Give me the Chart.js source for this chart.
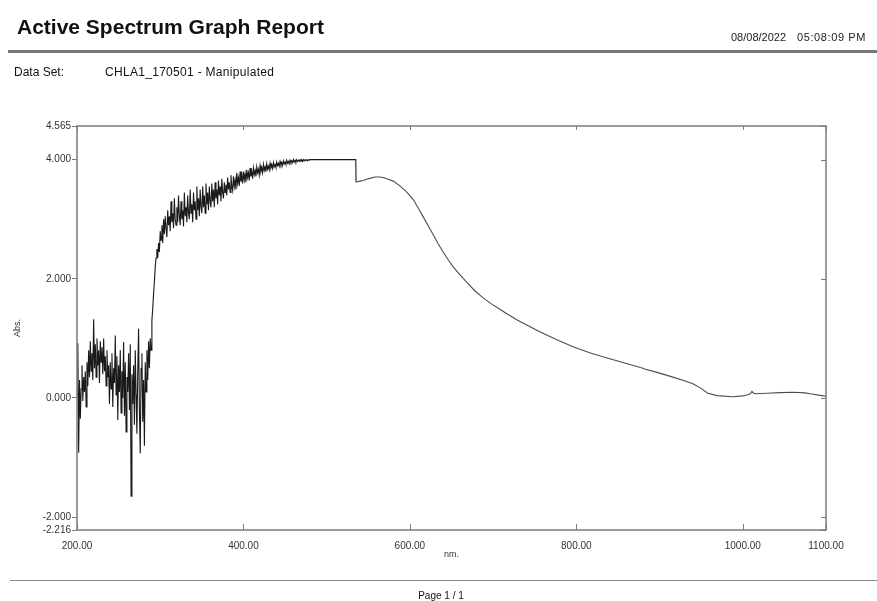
<!DOCTYPE html>
<html>
<head>
<meta charset="utf-8">
<script src="https://cdn.jsdelivr.net/npm/chart.js@4.4.0/dist/chart.umd.min.js"></script>
<style>
body { margin: 0; width: 877px; height: 601px; background: #fff; position: relative; overflow: hidden;
       font-family: Arial, "Liberation Sans", sans-serif; }
#wrap { position: absolute; left: 0; top: 0; width: 877px; height: 601px; }
.txt { position: absolute; white-space: pre; line-height: 1; color: #111; }
.rule { position: absolute; }
</style>
</head>
<body>
<div id="wrap"><canvas id="spectrumChart"></canvas></div>

<div class="txt" style="left:17px;top:16px;font-size:21px;font-weight:bold;">Active Spectrum Graph Report</div>
<div class="txt" style="left:731px;top:32px;font-size:11px;color:#222;">08/08/2022</div>
<div class="txt" style="left:797px;top:32px;font-size:11px;letter-spacing:0.6px;color:#222;">05:08:09 PM</div>
<div class="rule" style="left:8px;right:0;top:50px;border-top:3px solid #777;"></div>
<div class="txt" style="left:14px;top:66px;font-size:12px;">Data Set:</div>
<div class="txt" style="left:105px;top:66px;font-size:12px;letter-spacing:0.3px;">CHLA1_170501 - Manipulated</div>
<div class="rule" style="left:10px;right:0;top:580px;border-top:1px solid #888;"></div>
<div class="txt" style="left:0;width:882px;text-align:center;top:591px;font-size:10px;">Page 1 / 1</div>

<script>
/*** Axis ticks ***/
const xTicks = [200, 400, 600, 800, 1000, 1100];
const yTicks = [-2.216, -2, 0, 2, 4, 4.565];

/*** Spectrum, [nm, Abs] ***/
// noisy UV end
const uvNoise = [
    [200, 0.05], [201, 0.92], [202, -0.92], [203, 0.30], [204, -0.35], [205, 0.15], [206, 0.55],
    [207, -0.05], [208, 0.35], [209, 0.10], [210, 0.45], [211, -0.15], [212, 0.60], [213, 0.20],
    [214, 0.80], [215, 0.35], [216, 0.95], [217, 0.45], [218, 0.75], [219, 0.30], [220, 1.32],
    [221, 0.50], [222, 0.90], [223, 0.35], [224, 1.00], [225, 0.55], [226, 0.80], [227, 0.25],
    [228, 0.95], [229, 0.60], [230, 0.85], [231, 0.40], [232, 1.00], [233, 0.45], [234, 0.70],
    [235, 0.20], [236, 0.80], [237, 0.35], [238, 0.55], [239, -0.10], [240, 0.60], [241, 0.15],
    [242, 0.75], [243, -0.15], [244, 0.50], [245, 0.25], [246, 1.05], [247, 0.05], [248, 0.70],
    [249, -0.37], [250, 0.55], [251, 0.10], [252, 0.80], [253, -0.25], [254, 0.45], [255, 0.00],
    [256, 0.94], [257, -0.30], [258, 0.60], [259, -0.57], [260, 0.35], [261, 0.10], [262, 0.75],
    [263, -0.20], [264, 0.90], [265, -1.65], [266, 0.40], [267, -0.10], [268, 0.55], [269, -0.45],
    [270, 0.80], [271, 0.05], [272, -0.60], [273, 0.45], [274, 1.16], [275, -0.20], [276, -0.93],
    [277, 0.50], [278, 0.75], [279, -0.40], [280, 0.30], [281, -0.80], [282, 0.60], [283, 0.10],
    [284, 0.80], [285, 0.30], [286, 0.95], [287, 0.50], [288, 1.00], [289, 0.80], [290, 1.30],
    [291, 1.50], [292, 1.75], [293, 1.95], [294, 2.20], [295, 2.35], [296, 2.50], [297, 2.35],
    [298, 2.60], [299, 2.45], [300, 2.80]
];
// rising noisy shoulder
const riseNoise = [
    [301, 2.65], [302, 2.90], [303, 2.60], [304, 3.00], [305, 2.75], [306, 3.05], [307, 2.85],
    [308, 2.70], [309, 3.15], [310, 2.90], [311, 3.05], [312, 2.80], [313, 3.30], [314, 2.95],
    [315, 3.10], [316, 2.85], [317, 3.35], [318, 3.00], [319, 2.90], [320, 3.20], [321, 2.95],
    [322, 3.40], [323, 3.05], [324, 2.90], [325, 3.30], [326, 3.00], [327, 3.15], [328, 2.88],
    [329, 3.45], [330, 3.05], [331, 3.20], [332, 2.95], [333, 3.40], [334, 3.10], [335, 3.00],
    [336, 3.50], [337, 3.10], [338, 3.25], [339, 2.95], [340, 3.45], [341, 3.15], [342, 3.30],
    [343, 3.00], [344, 3.55], [345, 3.15], [346, 3.35], [347, 3.05], [348, 3.50], [349, 3.20],
    [350, 3.10], [351, 3.55], [352, 3.20], [353, 3.40], [354, 3.10], [355, 3.60], [356, 3.25],
    [357, 3.45], [358, 3.15], [359, 3.55], [360, 3.30], [361, 3.20], [362, 3.60], [363, 3.30],
    [364, 3.50], [365, 3.20], [366, 3.62], [367, 3.35], [368, 3.50], [369, 3.25], [370, 3.65],
    [371, 3.40], [372, 3.55], [373, 3.30], [374, 3.68], [375, 3.45], [376, 3.35], [377, 3.62],
    [378, 3.45], [379, 3.58], [380, 3.40], [381, 3.70], [382, 3.50], [383, 3.62], [384, 3.45],
    [385, 3.74], [386, 3.55], [387, 3.48], [388, 3.72], [389, 3.55], [390, 3.66], [391, 3.50],
    [392, 3.78], [393, 3.60], [394, 3.70], [395, 3.56], [396, 3.80], [397, 3.63], [398, 3.74],
    [399, 3.60], [400, 3.80], [401, 3.66], [402, 3.76], [403, 3.62], [404, 3.83], [405, 3.70],
    [406, 3.78], [407, 3.65], [408, 3.86], [409, 3.72], [410, 3.80], [411, 3.68], [412, 3.86],
    [413, 3.75], [414, 3.82], [415, 3.72], [416, 3.88], [417, 3.78], [418, 3.84], [419, 3.74],
    [420, 3.90], [421, 3.80], [422, 3.86], [423, 3.78], [424, 3.92], [425, 3.82], [426, 3.88],
    [427, 3.80], [428, 3.93], [429, 3.84], [430, 3.89], [431, 3.83], [432, 3.94], [433, 3.86],
    [434, 3.91], [435, 3.85], [436, 3.95], [437, 3.88], [438, 3.92], [439, 3.87], [440, 3.96],
    [441, 3.90], [442, 3.94], [443, 3.89], [444, 3.97], [445, 3.91], [446, 3.95], [447, 3.90],
    [448, 3.98], [449, 3.93], [450, 3.96], [451, 3.92], [452, 3.99], [453, 3.94], [454, 3.97],
    [455, 3.93], [456, 3.99], [457, 3.95], [458, 3.98], [459, 3.95], [460, 4.00], [461, 3.96],
    [462, 3.99], [463, 3.96], [464, 4.00], [465, 3.97], [466, 3.99], [467, 3.97], [468, 4.00],
    [469, 3.98], [470, 4.00], [471, 3.97], [472, 4.00], [473, 3.98], [474, 4.00], [475, 3.99],
    [476, 4.00], [477, 3.98], [478, 4.00], [479, 3.99], [480, 4.00]
];
// clipped plateau and detector step
const plateau = [[482, 4.00], [535, 4.00], [535.3, 3.62]];
// smooth visible / NIR part
const smoothTail = [
    [537, 3.63], [540, 3.64], [544, 3.65], [548, 3.67], [553, 3.69], [558, 3.71], [563, 3.71],
    [568, 3.70], [574, 3.67], [580, 3.64], [588, 3.56], [596, 3.46], [604, 3.33], [610, 3.19],
    [616, 3.04], [622, 2.89], [628, 2.74], [634, 2.59], [640, 2.45], [646, 2.32], [652, 2.20],
    [660, 2.07], [669, 1.93], [678, 1.80], [688, 1.68], [698, 1.58], [708, 1.49], [718, 1.40],
    [729, 1.31], [738, 1.24], [748, 1.17], [756, 1.11], [776, 0.98], [796, 0.86], [816, 0.76],
    [837, 0.67], [857, 0.59], [877, 0.51], [880, 0.50], [882, 0.485], [897, 0.43], [916, 0.35],
    [930, 0.29], [940, 0.24], [949, 0.17], [958, 0.08], [969, 0.04], [988, 0.02], [1000, 0.035],
    [1005, 0.05], [1009, 0.07], [1011, 0.11], [1013, 0.08], [1016, 0.07], [1029, 0.08],
    [1045, 0.09], [1061, 0.095], [1075, 0.085], [1081, 0.07], [1095, 0.04], [1100, 0.03]
];

const spectrum = uvNoise.concat(riseNoise, plateau, smoothTail).map(p => ({x: p[0], y: p[1]}));

/*** Frame and inner tick marks ***/
const framePlugin = {
    id: 'frame',
    afterDatasetsDraw(chart) {
        const ctx = chart.ctx, a = chart.chartArea, xs = chart.scales.x, ys = chart.scales.y;
        ctx.save();
        ctx.strokeStyle = '#7a7a7a';
        ctx.lineWidth = 1.5;
        ctx.strokeRect(a.left, a.top, a.right - a.left, a.bottom - a.top);
        ctx.lineWidth = 1;
        ctx.beginPath();
        xs.ticks.forEach(t => {
            const px = Math.round(xs.getPixelForValue(t.value)) + 0.5;
            ctx.moveTo(px, a.bottom); ctx.lineTo(px, a.bottom - 6);
            ctx.moveTo(px, a.top); ctx.lineTo(px, a.top + 4);
        });
        ys.ticks.forEach(t => {
            const py = Math.round(ys.getPixelForValue(t.value)) + 0.5;
            ctx.moveTo(a.right, py); ctx.lineTo(a.right - 5, py);
        });
        ctx.stroke();
        ctx.restore();
    }
};

/*** Chart ***/
Chart.defaults.font.family = 'Arial, "Liberation Sans", sans-serif';
Chart.defaults.color = '#333';

new Chart(document.getElementById('spectrumChart'), {
    type: 'line',
    data: {
        datasets: [{
            label: 'Abs.',
            data: spectrum,
            borderColor: '#1a1a1a',
            borderWidth: 1.1,
            pointRadius: 0,
            tension: 0,
            segment: {
                // smooth part of the trace prints lighter than the noisy part
                borderColor: c => c.p0.parsed.x >= 535.3 ? '#4d4d4d' : undefined
            }
        }]
    },
    options: {
        responsive: true,
        maintainAspectRatio: false,
        animation: false,
        layout: {padding: {left: 5, top: 126, right: 51, bottom: 41}},
        plugins: {legend: {display: false}, tooltip: {enabled: false}},
        scales: {
            x: {
                type: 'linear',
                min: 200,
                max: 1100,
                afterBuildTicks: s => { s.ticks = xTicks.map(v => ({value: v})); },
                afterFit: s => { s.height = 30; },
                border: {display: false},
                grid: {drawOnChartArea: false, drawTicks: false},
                ticks: {
                    autoSkip: false,
                    maxRotation: 0,
                    padding: 10,
                    font: {size: 10},
                    callback: v => v.toFixed(2)
                },
                title: {display: true, text: 'nm.', font: {size: 9}, padding: {top: 0, bottom: 0}}
            },
            y: {
                min: -2.216,
                max: 4.565,
                afterBuildTicks: s => { s.ticks = yTicks.map(v => ({value: v})); },
                afterFit: s => { s.width = 72; },
                border: {display: false},
                grid: {drawOnChartArea: false, drawTicks: true, tickLength: 5, color: '#7a7a7a'},
                ticks: {
                    autoSkip: false,
                    padding: 1,
                    font: {size: 10},
                    callback: v => v.toFixed(3)
                },
                title: {display: true, text: 'Abs.', font: {size: 9}, padding: {top: 7, bottom: 0}}
            }
        }
    },
    plugins: [framePlugin]
});
</script>
</body>
</html>
